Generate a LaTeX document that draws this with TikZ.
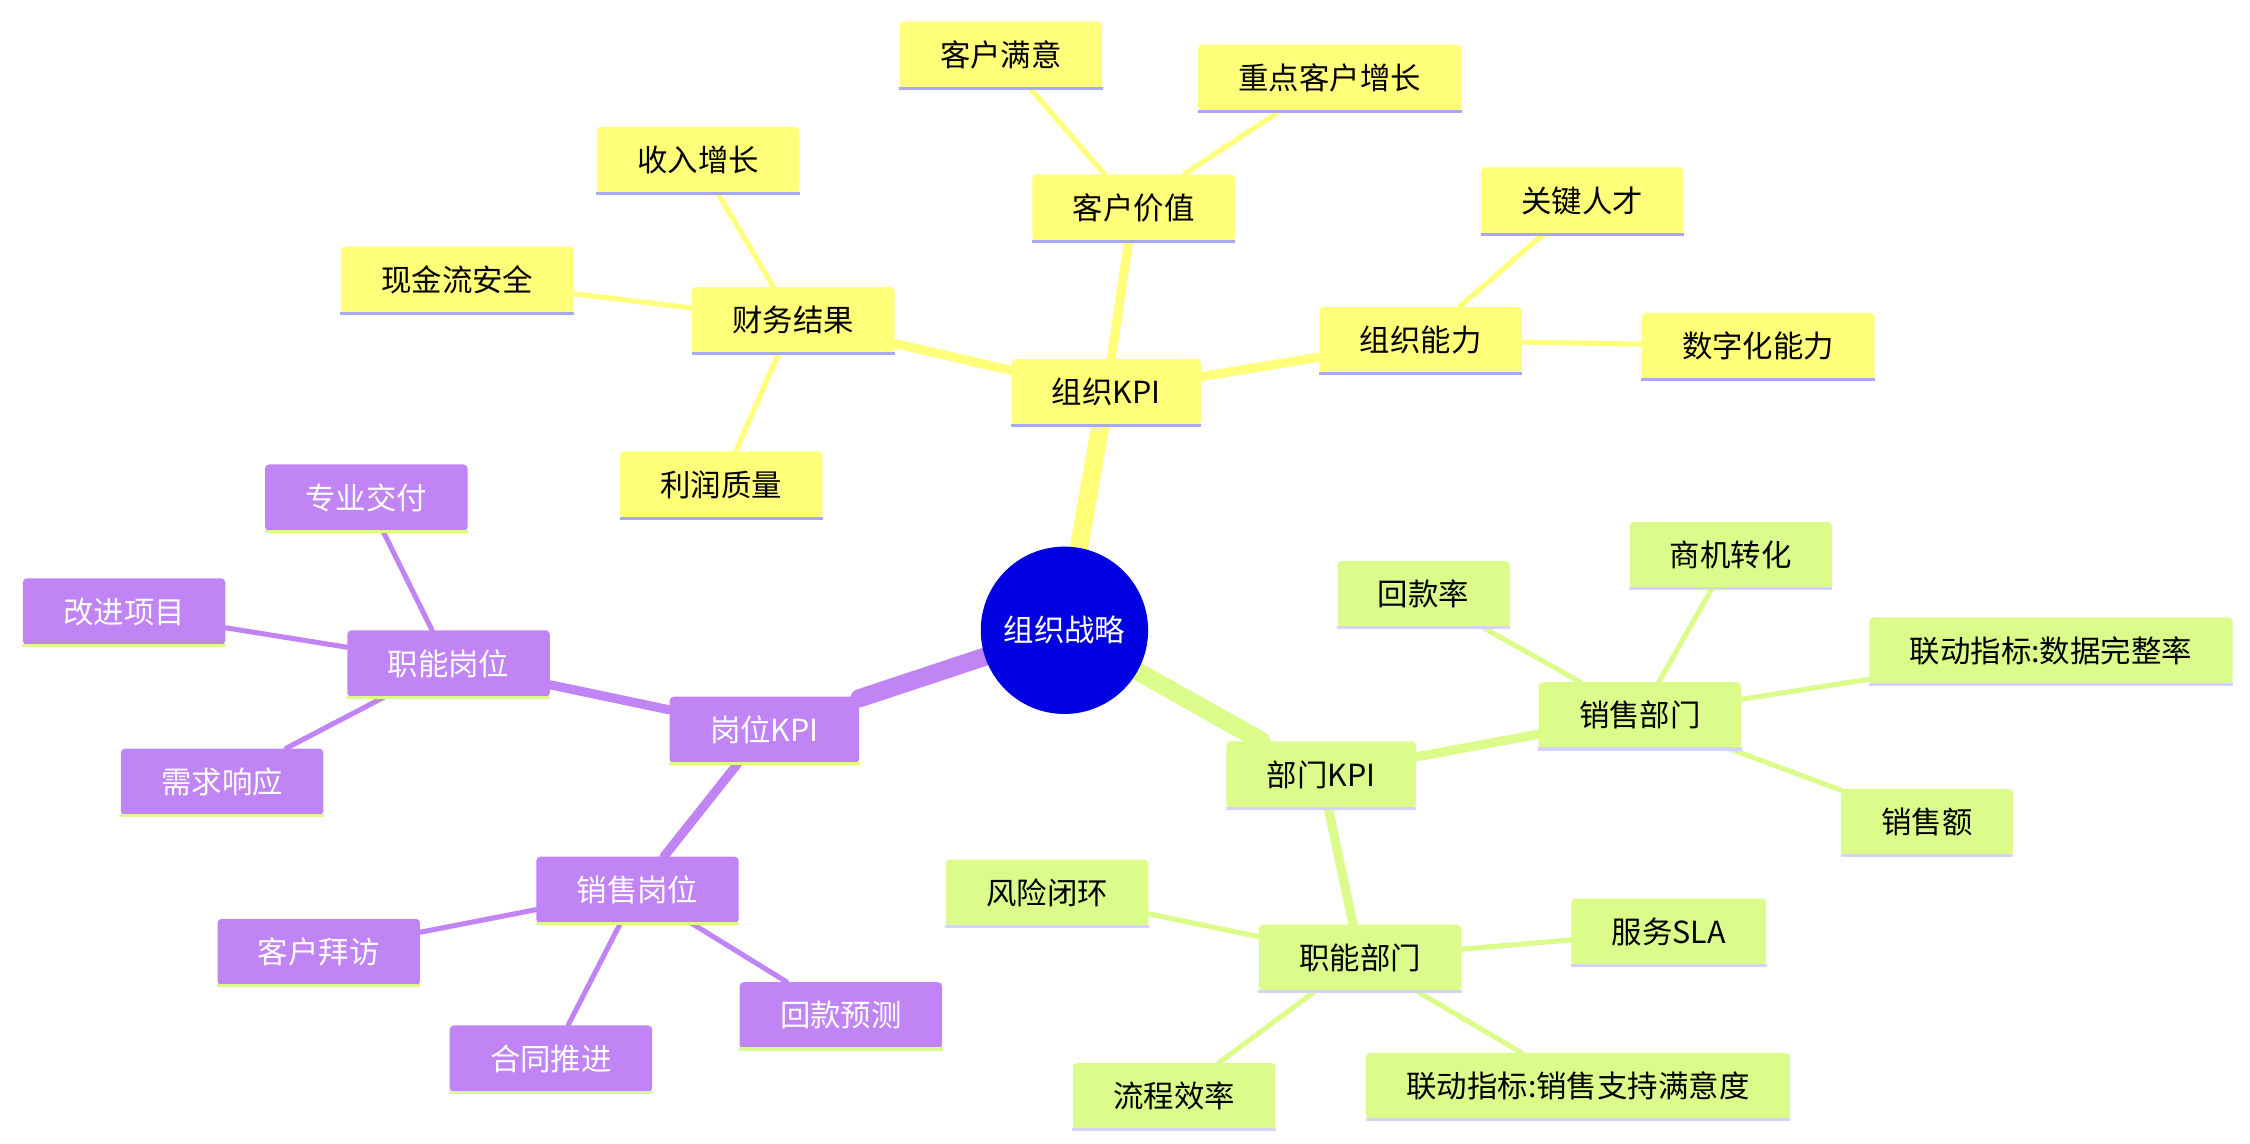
\documentclass[tikz,border=0pt]{standalone}
\usepackage{fontspec}
\setmainfont{Noto Sans CJK SC}
\usetikzlibrary{backgrounds}
\definecolor{kyellow}{HTML}{FFFF7A}
\definecolor{kgreen}{HTML}{DBFC8A}
\definecolor{kpurple}{HTML}{C084F5}
\definecolor{kline}{HTML}{A9A9F0}
\definecolor{kcore}{HTML}{0000E0}
\tikzset{
    box/.style={rounded corners=2pt, minimum height=1.15cm, inner xsep=0.7cm, font=\fontsize{15}{18}\selectfont},
    ybox/.style={box, fill=kyellow},
    gbox/.style={box, fill=kgreen},
    pbox/.style={box, fill=kpurple, text=white},
    lvA/.style={line width=#1, line cap=round},
}
\begin{document}
\begin{tikzpicture}[x=0.025cm, y=-0.025cm]
\useasboundingbox (0,0) rectangle (1560,792.5);
\node[circle, fill=kcore, text=white, minimum size=2.9cm, font=\fontsize{15}{18}\selectfont] (core) at (738,437) {组织战略};
% organisation
\node[ybox] (org) at (767,272) {组织KPI};
\node[ybox] (fin) at (550,222) {财务结果};
\node[ybox] (inc) at (484,111) {收入增长};
\node[ybox] (cash) at (317,194) {现金流安全};
\node[ybox] (prof) at (500,336) {利润质量};
\node[ybox] (cust) at (786,144) {客户价值};
\node[ybox] (sat) at (694,38) {客户满意};
\node[ybox] (key) at (922,54) {重点客户增长};
\node[ybox] (cap) at (985,236) {组织能力};
\node[ybox] (tal) at (1097,139) {关键人才};
\node[ybox] (dig) at (1219,240) {数字化能力};
% department
\node[gbox] (dep) at (916,537) {部门KPI};
\node[gbox] (sal) at (1137,496) {销售部门};
\node[gbox] (ret) at (987,412) {回款率};
\node[gbox] (opp) at (1200,385) {商机转化};
\node[gbox] (lnkA) at (1422,451) {联动指标:数据完整率};
\node[gbox] (amt) at (1336,570) {销售额};
\node[gbox] (fun) at (943,664) {职能部门};
\node[gbox] (risk) at (726,619) {风险闭环};
\node[gbox] (sla) at (1157,646) {服务SLA};
\node[gbox] (flow) at (814,760) {流程效率};
\node[gbox] (lnkB) at (1094,753) {联动指标:销售支持满意度};
% position
\node[pbox] (pos) at (530,506) {岗位KPI};
\node[pbox] (fpos) at (311,460) {职能岗位};
\node[pbox] (pro) at (254,345) {专业交付};
\node[pbox] (imp) at (86,424) {改进项目};
\node[pbox] (req) at (154,542) {需求响应};
\node[pbox] (spos) at (442,617) {销售岗位};
\node[pbox] (vis) at (221,660) {客户拜访};
\node[pbox] (con) at (382,734) {合同推进};
\node[pbox] (fc) at (583,704) {回款预测};
% bottom rules
\foreach \n in {org,fin,inc,cash,prof,cust,sat,key,cap,tal,dig}
    \draw[kline, line width=1.5pt] (\n.south west) -- (\n.south east);
\foreach \n in {dep,sal,ret,opp,lnkA,amt,fun,risk,sla,flow,lnkB}
    \draw[kline!50, line width=1.5pt] (\n.south west) -- (\n.south east);
\foreach \n in {pos,fpos,pro,imp,req,spos,vis,con,fc}
    \draw[kgreen, line width=1.5pt] (\n.south west) -- (\n.south east);
\begin{scope}[on background layer]
\draw[kyellow, lvA=9pt] (core) -- (org);
\draw[kgreen, lvA=9pt] (core) -- (dep);
\draw[kpurple, lvA=9pt] (core) -- (pos);
\foreach \a/\b in {org/fin,org/cust,org/cap}
    \draw[kyellow, lvA=4.5pt] (\a) -- (\b);
\foreach \a/\b in {fin/inc,fin/cash,fin/prof,cust/sat,cust/key,cap/tal,cap/dig}
    \draw[kyellow, lvA=2.5pt] (\a) -- (\b);
\foreach \a/\b in {dep/sal,dep/fun}
    \draw[kgreen, lvA=4.5pt] (\a) -- (\b);
\foreach \a/\b in {sal/ret,sal/opp,sal/lnkA,sal/amt,fun/risk,fun/sla,fun/flow,fun/lnkB}
    \draw[kgreen, lvA=2.5pt] (\a) -- (\b);
\foreach \a/\b in {pos/fpos,pos/spos}
    \draw[kpurple, lvA=4.5pt] (\a) -- (\b);
\foreach \a/\b in {fpos/pro,fpos/imp,fpos/req,spos/vis,spos/con,spos/fc}
    \draw[kpurple, lvA=2.5pt] (\a) -- (\b);
\end{scope}
\end{tikzpicture}
\end{document}
